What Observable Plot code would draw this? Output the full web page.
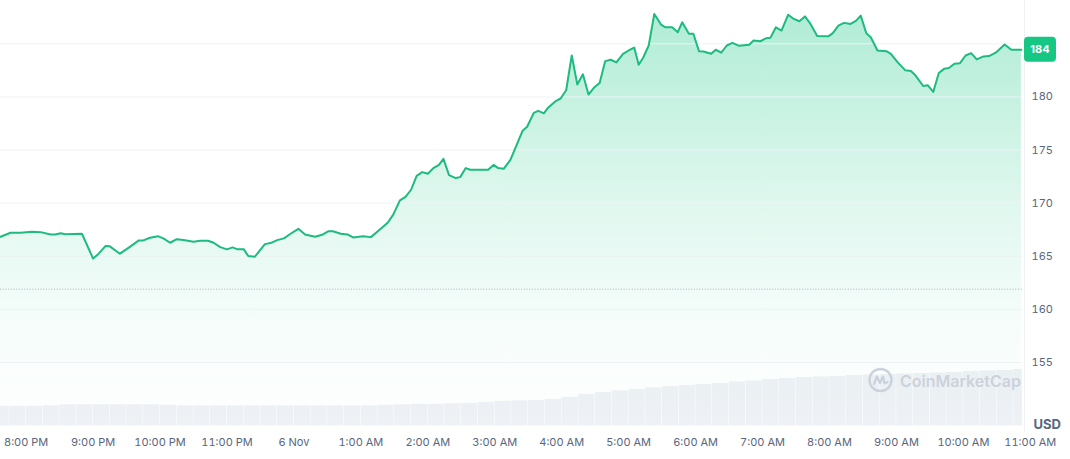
<!DOCTYPE html>
<html><head><meta charset="utf-8">
<script src="https://cdn.jsdelivr.net/npm/d3@7"></script>
<script src="https://cdn.jsdelivr.net/npm/@observablehq/plot@0.6"></script>
<style>
html,body{margin:0;padding:0;background:#fff;}
#chart{position:relative;width:1070px;height:459px;overflow:hidden;}
#chart svg{position:absolute;left:0;top:0;}
</style></head><body><div id="chart"></div>
<script>
// minutes relative to 00:00 on 6 Nov (negative = 5 Nov evening)
const times = [
  -263,-254,-245,-235,-227,-218,-214,-209,-205,-190,
  -180,-175,-169,-165,-156,-148,-139,-135,-129,-122,
  -117,-111,-105,-99,-90,-84,-77,-72,-66,-60,
  -55,-51,-45,-41,-35,-26,-21,-15,-9,-3,
  4,10,19,26,31,35,42,48,53,62,
  69,76,84,89,95,100,105,110,115,120,
  125,130,134,139,145,149,154,158,174,179,
  183,188,194,199,205,209,215,219,224,228,
  235,239,244,249,254,259,264,269,274,279,
  284,289,295,300,305,309,313,318,323,329,
  333,339,344,348,354,358,363,367,374,378,
  383,388,393,399,408,412,418,423,427,432,
  437,443,448,453,458,463,469,479,483,488,
  493,499,504,508,513,517,523,531,535,541,
  548,553,557,564,568,573,578,583,587,592,
  597,602,607,612,618,623,629,637,643,652
];
const prices = [
  166.84,167.21,167.21,167.30,167.27,167.05,167.05,167.17,167.08,167.12,
  164.78,165.24,165.96,165.93,165.24,165.81,166.49,166.49,166.74,166.89,
  166.68,166.27,166.61,166.52,166.37,166.46,166.46,166.27,165.86,165.65,
  165.83,165.67,165.67,165.02,164.96,166.14,166.24,166.52,166.68,167.12,
  167.58,167.05,166.84,167.05,167.36,167.36,167.12,167.05,166.77,166.89,
  166.80,167.43,168.15,168.92,170.26,170.58,171.26,172.57,172.92,172.76,
  173.30,173.60,174.17,172.64,172.36,172.45,173.30,173.14,173.14,173.60,
  173.30,173.23,174.07,175.32,176.82,177.19,178.50,178.69,178.45,179.01,
  179.63,179.85,180.63,183.90,181.16,182.13,180.22,180.88,181.31,183.37,
  183.50,183.25,184.06,184.37,184.65,183.03,183.69,184.84,187.81,186.81,
  186.55,186.55,186.09,187.02,185.94,185.94,184.31,184.28,184.06,184.44,
  184.16,184.84,185.09,184.81,184.91,185.31,185.24,185.52,185.56,186.55,
  186.25,187.74,187.34,187.12,187.58,186.87,185.73,185.70,186.01,186.71,
  186.97,186.87,187.18,187.65,185.99,185.62,184.37,184.31,184.06,183.28,
  182.50,182.43,182.03,181.03,181.10,180.47,182.25,182.66,182.72,183.13,
  183.18,183.90,184.12,183.53,183.81,183.84,184.16,184.93,184.44,184.44
];
// volume bars: 15-minute buckets starting 19:30 on 5 Nov (arbitrary units)
const volumeStart = -270;
const volumeStep = 15;
const volumes = [
  20,20,20,20.5,21.5,21.5,21.5,21.5,21.5,21.5,
  21,20.5,20.5,20.5,20.5,20.5,20.5,20.5,20.5,20.5,
  20.5,20.5,20.5,21,21.5,22,22,22.5,23,24,
  25,25.5,26,27,29,32,34,35.5,37,38.5,
  40,41,42,43,44.5,45.5,47,48,49,49.5,
  50,51,51.5,52,52.5,53,53.5,54,55,55.5,
  56,57
];
const openPrice = 161.9;
const windowStart = -263;
const windowEnd = 653;
const priceFloor = 149;
const priceCeil = 185;
const gridTicks = [155, 160, 165, 170, 175, 180, 185];
const labelTicks = [155, 160, 165, 170, 175, 180];
const tickMinutes = [-240,-180,-120,-60,0,60,120,180,240,300,360,420,480,540,600,660];
const tickLabels = ["8:00 PM","9:00 PM","10:00 PM","11:00 PM","6 Nov","1:00 AM","2:00 AM","3:00 AM","4:00 AM","5:00 AM","6:00 AM","7:00 AM","8:00 AM","9:00 AM","10:00 AM","11:00 AM"];

const series = times.map((t, i) => ({t, price: prices[i]}));
const bars = volumes.map((v, i) => ({t1: volumeStart + i * volumeStep, t2: volumeStart + (i + 1) * volumeStep, v}));
const lastPrice = prices[prices.length - 1];

const GREEN = "#16c784";
const LINE = "#1dbb80";
const ns = "http://www.w3.org/2000/svg";
function el(tag, attrs) {
  const e = document.createElementNS(ns, tag);
  for (const k in attrs) e.setAttribute(k, attrs[k]);
  return e;
}

const W = 1070, H = 459, ML = 0, MR = 48, MB = 33.3;

const volPlot = Plot.plot({
  width: W, height: H, marginLeft: ML, marginRight: MR, marginTop: 366, marginBottom: MB,
  x: {domain: [windowStart, windowEnd], axis: null},
  y: {domain: [0, 60], axis: null},
  style: {background: "transparent"},
  marks: [
    Plot.rectY(bars, {x1: "t1", x2: "t2", y: "v", fill: "#eef1f5", insetLeft: 0.25, insetRight: 0.25, clip: true})
  ]
});

const gradientDefs = () => {
  const defs = el("defs", {});
  const lg = el("linearGradient", {id: "priceFill", gradientUnits: "userSpaceOnUse", x1: 0, x2: 0, y1: 10, y2: 426});
  [[0, 0.34], [0.45, 0.14], [0.75, 0.04], [1, 0]].forEach(([o, a]) => {
    lg.append(el("stop", {offset: o, "stop-color": GREEN, "stop-opacity": a}));
  });
  defs.append(lg);
  return defs;
};

const badge = (index, scales, values, dims) => {
  const g = el("g", {});
  const y = scales.y(lastPrice);
  const x = dims.width - dims.marginRight + 2;
  g.append(el("rect", {x, y: y - 12.5, width: 32, height: 25, rx: 4, fill: GREEN}));
  const t = el("text", {x: x + 16, y, "text-anchor": "middle", "dominant-baseline": "central", fill: "#fff", "font-size": 11, "font-weight": 700, "font-family": "Inter, sans-serif"});
  t.textContent = lastPrice.toFixed(0);
  g.append(t);
  return g;
};

const watermark = (index, scales, values, dims) => {
  const right = dims.width - dims.marginRight;
  const bottom = dims.height - dims.marginBottom;
  const g = el("g", {});
  const cx = right - 141.5, cy = bottom - 45.7;
  g.append(el("circle", {cx, cy, r: 11, fill: "none", stroke: "#ccd2db", "stroke-width": 2.4}));
  g.append(el("path", {d: `M${cx-6.5},${cy+4} L${cx-3.5},${cy-3.5} L${cx-0.5},${cy+3} L${cx+2.5},${cy-3.5} L${cx+4},${cy+3.5} L${cx+7},${cy+2}`, fill: "none", stroke: "#ccd2db", "stroke-width": 2.2, "stroke-linejoin": "round", "stroke-linecap": "round"}));
  const t = el("text", {x: right - 122, y: bottom - 38.5, "text-anchor": "start", fill: "#ccd2db", "font-size": 16, "font-weight": 600, "font-family": "Inter, sans-serif"});
  t.textContent = "CoinMarketCap";
  g.append(t);
  return g;
};

const pricePlot = Plot.plot({
  width: W, height: H, marginLeft: ML, marginRight: MR, marginTop: 43.3, marginBottom: MB,
  x: {domain: [windowStart, windowEnd]},
  y: {domain: [priceFloor, priceCeil]},
  style: {background: "transparent", fontFamily: "Inter, sans-serif", fontSize: "11px", color: "#58667e", overflow: "visible"},
  marks: [
    gradientDefs,
    Plot.areaY(series, {x: "t", y1: priceFloor, y2: "price", fill: "url(#priceFill)"}),
    Plot.gridY(gridTicks, {stroke: "#eff2f5", strokeOpacity: 1}),
    Plot.ruleY([openPrice], {stroke: "#a6b0c3", strokeDasharray: "1,1.7"}),
    Plot.ruleX([windowEnd], {stroke: "#eff2f5", dx: 2, insetTop: -44, insetBottom: -6}),
    watermark,
    Plot.lineY(series, {x: "t", y: "price", stroke: LINE, strokeWidth: 2}),
    Plot.axisY(labelTicks, {anchor: "right", tickSize: 0, tickPadding: 9, label: null}),
    Plot.axisX(tickMinutes, {tickSize: 0, tickPadding: 12, label: null, tickFormat: d => tickLabels[tickMinutes.indexOf(d)]}),
    Plot.text(["USD"], {frameAnchor: "bottom-right", textAnchor: "start", dx: 11, dy: 3, fontSize: 13, fontWeight: 700, fill: "#58667e"}),
    badge
  ]
});

const chart = document.getElementById("chart");
chart.append(volPlot);
chart.append(pricePlot);
</script></body></html>
